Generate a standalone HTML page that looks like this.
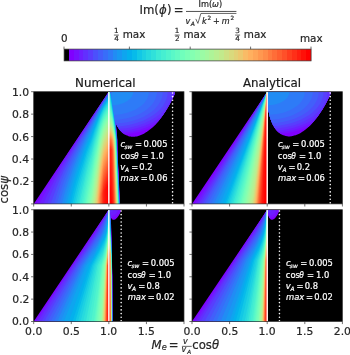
<!DOCTYPE html>
<html><head><meta charset="utf-8"><title>Im(phi) growth rate</title>
<style>html,body{margin:0;padding:0;background:#fff;overflow:hidden}svg{display:block}</style>
</head><body>
<svg width="350" height="355" viewBox="0 0 350 355" font-family="'DejaVu Sans', 'Liberation Sans', sans-serif">
<rect width="350" height="355" fill="#fff"/>
<text x="139.45" y="14.00" font-size="11.70" stroke="#262626" stroke-width="0.20" fill="#262626">Im(</text>
<text x="159.06" y="14.0" font-size="11.70" font-style="italic" fill="#262626" stroke="#262626" stroke-width="0.20">ϕ</text>
<text x="166.98" y="14.0" font-size="11.70" fill="#262626" stroke="#262626" stroke-width="0.20">)</text>
<text x="173.76" y="14.00" font-size="11.70" stroke="#262626" stroke-width="0.20" fill="#262626">=</text>
<text x="198.50" y="7.30" font-size="8.20" stroke="#262626" stroke-width="0.20" fill="#262626">Im(</text>
<text x="212.10" y="7.3" font-size="8.20" font-style="italic" fill="#262626" stroke="#262626" stroke-width="0.20">ω</text>
<text x="218.97" y="7.3" font-size="8.20" fill="#262626" stroke="#262626" stroke-width="0.20">)</text>
<rect x="186.0" y="10.95" width="50.4" height="0.8" fill="#262626"/>
<text x="185.52" y="23.60" font-size="8.10" font-style="italic" stroke="#262626" stroke-width="0.20" fill="#262626">v</text>
<text x="190.72" y="25.50" font-size="6.00" font-style="italic" stroke="#262626" stroke-width="0.20" fill="#262626">A</text>
<polyline points="195.8,18.9 197.9,23.4 200.9,13.45 236.4,13.45" fill="none" stroke="#262626" stroke-width="0.7" stroke-linejoin="miter"/>
<text x="201.92" y="23.60" font-size="8.10" font-style="italic" stroke="#262626" stroke-width="0.20" fill="#262626">k</text>
<text x="207.48" y="20.30" font-size="5.70" stroke="#262626" stroke-width="0.20" fill="#262626">2</text>
<text x="212.94" y="23.60" font-size="8.10" stroke="#262626" stroke-width="0.20" fill="#262626">+</text>
<text x="221.82" y="23.60" font-size="8.10" font-style="italic" stroke="#262626" stroke-width="0.20" fill="#262626">m</text>
<text x="230.38" y="20.30" font-size="5.70" stroke="#262626" stroke-width="0.20" fill="#262626">2</text>
<defs><linearGradient id="cbg" x1="0" y1="0" x2="1" y2="0"><stop offset="0" stop-color="#000"/><stop offset="0.01961" stop-color="#000"/><stop offset="0.01961" stop-color="#8000ff"/><stop offset="0.03922" stop-color="#8000ff"/><stop offset="0.03922" stop-color="#7610ff"/><stop offset="0.05882" stop-color="#7610ff"/><stop offset="0.05882" stop-color="#6c1fff"/><stop offset="0.07843" stop-color="#6c1fff"/><stop offset="0.07843" stop-color="#622ffe"/><stop offset="0.09804" stop-color="#622ffe"/><stop offset="0.09804" stop-color="#583efd"/><stop offset="0.11765" stop-color="#583efd"/><stop offset="0.11765" stop-color="#4c50fc"/><stop offset="0.13725" stop-color="#4c50fc"/><stop offset="0.13725" stop-color="#425ffa"/><stop offset="0.15686" stop-color="#425ffa"/><stop offset="0.15686" stop-color="#386df9"/><stop offset="0.17647" stop-color="#386df9"/><stop offset="0.17647" stop-color="#2e7bf7"/><stop offset="0.19608" stop-color="#2e7bf7"/><stop offset="0.19608" stop-color="#218cf4"/><stop offset="0.21569" stop-color="#218cf4"/><stop offset="0.21569" stop-color="#1898f2"/><stop offset="0.23529" stop-color="#1898f2"/><stop offset="0.23529" stop-color="#0ea5ef"/><stop offset="0.25490" stop-color="#0ea5ef"/><stop offset="0.25490" stop-color="#04b0ed"/><stop offset="0.27451" stop-color="#04b0ed"/><stop offset="0.27451" stop-color="#07bbea"/><stop offset="0.29412" stop-color="#07bbea"/><stop offset="0.29412" stop-color="#12c8e6"/><stop offset="0.31373" stop-color="#12c8e6"/><stop offset="0.31373" stop-color="#1dd1e2"/><stop offset="0.33333" stop-color="#1dd1e2"/><stop offset="0.33333" stop-color="#27dade"/><stop offset="0.35294" stop-color="#27dade"/><stop offset="0.35294" stop-color="#30e1da"/><stop offset="0.37255" stop-color="#30e1da"/><stop offset="0.37255" stop-color="#3dead5"/><stop offset="0.39216" stop-color="#3dead5"/><stop offset="0.39216" stop-color="#46efd1"/><stop offset="0.41176" stop-color="#46efd1"/><stop offset="0.41176" stop-color="#50f4cc"/><stop offset="0.43137" stop-color="#50f4cc"/><stop offset="0.43137" stop-color="#5af8c8"/><stop offset="0.45098" stop-color="#5af8c8"/><stop offset="0.45098" stop-color="#64fbc3"/><stop offset="0.47059" stop-color="#64fbc3"/><stop offset="0.47059" stop-color="#70febc"/><stop offset="0.49020" stop-color="#70febc"/><stop offset="0.49020" stop-color="#7affb7"/><stop offset="0.50980" stop-color="#7affb7"/><stop offset="0.50980" stop-color="#84ffb2"/><stop offset="0.52941" stop-color="#84ffb2"/><stop offset="0.52941" stop-color="#8efeac"/><stop offset="0.54902" stop-color="#8efeac"/><stop offset="0.54902" stop-color="#9bfba5"/><stop offset="0.56863" stop-color="#9bfba5"/><stop offset="0.56863" stop-color="#a4f89f"/><stop offset="0.58824" stop-color="#a4f89f"/><stop offset="0.58824" stop-color="#aef498"/><stop offset="0.60784" stop-color="#aef498"/><stop offset="0.60784" stop-color="#b9ef92"/><stop offset="0.62745" stop-color="#b9ef92"/><stop offset="0.62745" stop-color="#c2ea8c"/><stop offset="0.64706" stop-color="#c2ea8c"/><stop offset="0.64706" stop-color="#cee184"/><stop offset="0.66667" stop-color="#cee184"/><stop offset="0.66667" stop-color="#d9da7d"/><stop offset="0.68627" stop-color="#d9da7d"/><stop offset="0.68627" stop-color="#e2d176"/><stop offset="0.70588" stop-color="#e2d176"/><stop offset="0.70588" stop-color="#ecc86f"/><stop offset="0.72549" stop-color="#ecc86f"/><stop offset="0.72549" stop-color="#f9bb66"/><stop offset="0.74510" stop-color="#f9bb66"/><stop offset="0.74510" stop-color="#ffb05f"/><stop offset="0.76471" stop-color="#ffb05f"/><stop offset="0.76471" stop-color="#ffa558"/><stop offset="0.78431" stop-color="#ffa558"/><stop offset="0.78431" stop-color="#ff9850"/><stop offset="0.80392" stop-color="#ff9850"/><stop offset="0.80392" stop-color="#ff8c49"/><stop offset="0.82353" stop-color="#ff8c49"/><stop offset="0.82353" stop-color="#ff7b40"/><stop offset="0.84314" stop-color="#ff7b40"/><stop offset="0.84314" stop-color="#ff6d38"/><stop offset="0.86275" stop-color="#ff6d38"/><stop offset="0.86275" stop-color="#ff5f30"/><stop offset="0.88235" stop-color="#ff5f30"/><stop offset="0.88235" stop-color="#ff5029"/><stop offset="0.90196" stop-color="#ff5029"/><stop offset="0.90196" stop-color="#ff3e1f"/><stop offset="0.92157" stop-color="#ff3e1f"/><stop offset="0.92157" stop-color="#ff2f18"/><stop offset="0.94118" stop-color="#ff2f18"/><stop offset="0.94118" stop-color="#ff1f10"/><stop offset="0.96078" stop-color="#ff1f10"/><stop offset="0.96078" stop-color="#ff1008"/><stop offset="0.98039" stop-color="#ff1008"/><stop offset="0.98039" stop-color="#ff0000"/><stop offset="1" stop-color="#ff0000"/></linearGradient></defs>
<rect x="64.10" y="49.10" width="247.00" height="11.80" fill="url(#cbg)"/>
<rect x="64.10" y="49.10" width="247.00" height="11.80" fill="none" stroke="#333" stroke-width="0.7"/>
<line x1="64.00" y1="46.60" x2="64.00" y2="49.10" stroke="#333" stroke-width="0.7"/>
<line x1="129.40" y1="46.60" x2="129.40" y2="49.10" stroke="#333" stroke-width="0.7"/>
<line x1="190.20" y1="46.60" x2="190.20" y2="49.10" stroke="#333" stroke-width="0.7"/>
<line x1="250.60" y1="46.60" x2="250.60" y2="49.10" stroke="#333" stroke-width="0.7"/>
<line x1="311.00" y1="46.60" x2="311.00" y2="49.10" stroke="#333" stroke-width="0.7"/>
<text x="61.09" y="41.60" font-size="10.40" stroke="#262626" stroke-width="0.20" fill="#262626">0</text>
<text x="299.96" y="41.50" font-size="10.40" stroke="#262626" stroke-width="0.20" fill="#262626">max</text>
<text x="114.05" y="33.00" font-size="7.20" stroke="#262626" stroke-width="0.20" fill="#262626">1</text>
<rect x="113.90" y="34.7" width="5.0" height="0.7" fill="#262626"/>
<text x="114.14" y="41.10" font-size="7.20" stroke="#262626" stroke-width="0.20" fill="#262626">4</text>
<text x="122.66" y="37.60" font-size="10.40" stroke="#262626" stroke-width="0.20" fill="#262626">max</text>
<text x="174.85" y="33.00" font-size="7.20" stroke="#262626" stroke-width="0.20" fill="#262626">1</text>
<rect x="174.70" y="34.7" width="5.0" height="0.7" fill="#262626"/>
<text x="175.01" y="41.10" font-size="7.20" stroke="#262626" stroke-width="0.20" fill="#262626">2</text>
<text x="183.46" y="37.60" font-size="10.40" stroke="#262626" stroke-width="0.20" fill="#262626">max</text>
<text x="235.32" y="33.00" font-size="7.20" stroke="#262626" stroke-width="0.20" fill="#262626">3</text>
<rect x="235.10" y="34.7" width="5.0" height="0.7" fill="#262626"/>
<text x="235.34" y="41.10" font-size="7.20" stroke="#262626" stroke-width="0.20" fill="#262626">4</text>
<text x="243.86" y="37.60" font-size="10.40" stroke="#262626" stroke-width="0.20" fill="#262626">max</text>
<clipPath id="clipTL"><rect x="33.70" y="91.70" width="150.30" height="112.20"/></clipPath>
<rect x="33.70" y="91.70" width="150.30" height="112.20" fill="#000"/>
<g clip-path="url(#clipTL)">
<path fill="#8000ff" fill-rule="evenodd" d="M33.7 203.9L120.0 203.9L117.5 151.6L117.4 139.8L116.1 125.2L115.7 123.1L117.4 126.5L120.4 130.8L122.0 132.5L123.9 134.0L126.9 135.6L127.3 135.6L128.4 136.2L128.9 136.2L129.0 136.4L130.9 136.6L131.0 136.8L135.2 136.8L135.3 136.6L137.3 136.4L137.4 136.2L139.8 135.6L143.9 133.8L146.4 132.1L146.7 132.1L151.9 128.0L155.6 124.4L158.1 121.6L161.2 117.7L165.7 111.1L170.5 102.9L174.9 93.8L174.9 91.7L111.4 91.7L111.4 95.4L110.4 91.7L108.7 91.7Z"/>
<path fill="#7610ff" fill-rule="evenodd" d="M36.2 203.9L119.9 203.9L117.4 150.0L117.2 139.9L115.6 123.1L115.9 123.3L117.4 126.5L119.7 130.0L122.6 132.9L125.0 134.5L131.6 133.6L139.1 131.9L145.9 129.8L152.4 127.2L155.6 124.3L158.7 120.8L162.7 115.6L165.7 111.1L169.4 104.8L173.3 97.1L174.8 93.8L174.8 91.7L111.4 91.7L111.4 95.8L110.3 91.7L108.7 91.7L108.7 92.0L72.4 146.5L52.0 177.5L41.2 194.6ZM115.6 123.0L115.6 122.7L115.6 122.7L115.6 122.7Z"/>
<path fill="#6c1fff" fill-rule="evenodd" d="M39.7 203.9L119.8 203.9L117.3 150.0L117.1 139.9L115.8 125.2L115.5 122.7L115.6 122.7L117.4 126.5L119.7 129.9L120.9 131.2L122.9 133.0L131.4 131.7L139.8 129.7L147.6 127.0L154.6 123.8L157.1 122.5L158.1 121.4L161.2 117.6L165.6 111.1L169.4 104.8L173.3 97.1L174.8 93.8L174.8 91.7L111.4 91.7L111.4 96.0L110.3 91.7L108.7 91.7L108.7 92.1L75.5 142.6L60.1 166.7L51.4 181.3L46.7 189.7L41.7 199.2ZM115.5 122.7L115.5 122.6L115.5 122.5L115.5 122.6Z"/>
<path fill="#622ffe" fill-rule="evenodd" d="M43.4 203.9L119.7 203.9L117.2 150.0L117.1 139.9L115.8 125.2L115.4 122.6L115.7 122.7L117.4 126.5L119.7 129.9L120.9 131.1L129.4 130.0L137.5 128.1L145.3 125.5L152.3 122.4L158.1 119.0L161.0 116.9L162.7 115.5L167.1 108.7L171.2 101.2L174.7 93.8L174.7 91.7L111.4 91.7L111.4 96.2L110.3 91.7L108.7 91.7L108.7 92.2L98.7 107.4L77.5 140.5L63.7 163.3L57.7 174.0L50.9 187.3L46.9 195.7ZM115.4 122.4L115.3 122.2L115.4 122.2L115.4 122.2Z"/>
<path fill="#583efd" fill-rule="evenodd" d="M47.1 203.9L119.7 203.9L117.2 150.0L117.0 139.9L115.7 125.2L115.2 122.2L115.4 122.2L117.5 126.5L119.2 129.0L127.9 127.9L136.2 126.0L143.9 123.4L151.0 120.1L155.7 117.3L159.7 114.3L163.3 111.0L166.3 107.3L168.7 103.7L170.4 99.7L171.4 95.8L171.8 91.7L111.4 91.7L111.4 96.5L110.2 91.7L108.8 91.7L108.7 92.5L99.2 107.0L78.8 139.9L72.9 150.0L66.1 162.0L61.2 171.4L57.0 180.0L50.7 194.6ZM115.2 122.1L115.2 121.8L115.2 121.8L115.3 121.8Z"/>
<path fill="#4c50fc" fill-rule="evenodd" d="M50.6 203.9L119.6 203.9L117.1 150.0L116.9 139.9L115.6 125.2L115.1 121.6L115.3 121.8L116.5 124.6L117.5 126.5L121.8 126.2L129.2 125.0L136.4 123.1L143.1 120.7L149.3 117.6L153.4 115.1L157.0 112.3L160.2 109.2L162.9 105.9L164.9 102.5L166.5 99.0L167.4 95.4L167.7 91.7L111.4 91.7L111.4 96.7L110.2 91.7L108.8 91.7L108.7 92.8L99.1 107.8L79.7 140.3L74.0 150.6L68.3 161.5L63.3 171.4L59.1 180.9L56.2 188.4Z"/>
<path fill="#425ffa" fill-rule="evenodd" d="M54.0 203.9L119.5 203.9L117.0 150.0L116.9 139.9L115.5 125.0L114.9 121.2L116.1 123.6L121.9 123.1L127.5 122.2L133.0 120.8L138.3 119.1L143.2 116.9L147.6 114.5L150.9 112.3L154.1 109.7L156.8 106.8L158.9 104.0L160.7 101.0L161.9 98.1L162.6 94.9L162.9 91.7L111.4 91.7L111.4 97.1L110.1 91.7L108.8 91.7L108.7 93.2L101.1 105.0L94.3 116.8L79.7 142.8L72.6 156.4L66.1 170.2L61.5 181.1L57.5 192.3Z"/>
<path fill="#386df9" fill-rule="evenodd" d="M56.7 203.9L119.4 203.9L117.0 150.0L116.8 139.9L115.4 125.0L114.7 120.0L118.9 119.7L123.0 119.1L127.1 118.3L131.0 117.3L134.9 116.0L138.5 114.5L141.8 112.8L144.8 111.0L147.4 109.1L149.9 106.8L152.1 104.5L153.8 102.1L155.2 99.6L156.2 96.9L156.8 94.3L157.0 91.7L111.4 91.7L111.4 97.6L110.1 91.7L108.8 91.7L108.7 93.7L101.4 105.2L94.8 116.9L85.0 135.1L78.3 148.2L74.3 156.4L67.7 171.5L63.8 181.5L60.0 192.5Z"/>
<path fill="#2e7bf7" fill-rule="evenodd" d="M59.2 203.9L119.3 203.9L116.9 150.0L116.7 139.9L115.3 125.0L113.9 115.0L120.7 114.3L127.4 112.8L133.4 110.6L136.2 109.2L138.8 107.6L141.0 106.0L143.0 104.2L144.7 102.4L146.2 100.3L147.4 98.2L148.2 96.0L148.7 93.9L148.9 91.7L111.5 91.7L111.4 98.1L110.1 91.7L108.8 91.7L108.7 94.3L103.6 102.2L98.7 110.8L85.9 135.6L75.9 156.8L71.8 166.5L65.9 182.2L62.3 192.9Z"/>
<path fill="#218cf4" fill-rule="evenodd" d="M61.7 203.9L119.3 203.9L116.8 150.0L116.6 139.9L115.2 125.0L112.4 105.3L116.5 105.0L120.5 104.1L124.1 102.8L127.3 101.1L129.9 99.1L131.8 96.7L132.9 94.3L133.3 91.7L111.5 91.7L111.4 98.7L110.0 91.7L108.8 91.7L108.7 94.9L103.6 102.9L98.9 111.5L86.2 137.5L77.1 157.9L72.8 168.9L67.7 183.7L64.5 193.6Z"/>
<path fill="#1898f2" fill-rule="evenodd" d="M64.0 203.9L119.2 203.9L116.8 150.0L116.5 139.9L115.1 125.0L111.0 96.9L109.9 91.7L108.8 91.7L108.7 95.6L103.6 103.7L98.7 113.0L86.7 139.4L79.2 157.2L75.5 166.7L72.2 176.2L67.2 192.5Z"/>
<path fill="#0ea5ef" fill-rule="evenodd" d="M66.3 203.9L119.1 203.9L116.7 150.0L116.5 139.9L115.0 125.0L110.9 96.9L109.9 91.7L108.8 91.7L108.7 96.4L103.6 104.5L100.1 111.3L94.4 124.2L91.6 131.3L88.0 139.2L84.8 147.1L78.5 163.5L74.7 174.4L71.6 184.6Z"/>
<path fill="#04b0ed" fill-rule="evenodd" d="M68.5 203.9L119.0 203.9L116.6 150.0L116.4 139.9L114.9 125.0L110.8 96.9L109.8 91.7L108.8 91.7L108.7 97.2L103.6 105.5L100.2 112.3L94.5 126.1L91.6 133.9L88.3 141.6L85.4 149.1L79.0 167.1L75.7 177.2L72.5 188.4Z"/>
<path fill="#07bbea" fill-rule="evenodd" d="M70.6 203.9L118.9 203.9L116.6 150.0L116.3 139.9L114.8 125.0L110.7 96.9L109.7 91.7L108.8 91.7L108.7 98.2L103.6 106.5L100.3 113.4L94.6 128.2L91.6 136.8L86.0 151.4L79.4 171.0L76.7 180.0L73.4 191.7Z"/>
<path fill="#12c8e6" fill-rule="evenodd" d="M72.4 203.9L118.8 203.9L116.5 150.0L116.2 139.9L114.7 125.0L110.6 96.9L109.6 91.7L108.8 91.7L108.7 99.2L103.6 107.6L100.4 114.5L94.6 130.4L91.6 139.9L86.5 153.8L77.8 182.4L75.0 192.9Z"/>
<path fill="#1dd1e2" fill-rule="evenodd" d="M74.2 203.9L118.7 203.9L116.4 150.0L116.1 139.9L114.6 125.0L109.5 91.7L108.8 91.7L108.7 100.3L103.6 108.8L100.5 115.8L94.7 132.8L91.6 143.2L87.0 156.6L78.7 185.4Z"/>
<path fill="#27dade" fill-rule="evenodd" d="M75.9 203.9L118.6 203.9L116.3 150.0L116.0 139.9L114.4 125.0L109.3 91.7L108.8 91.7L108.7 101.4L103.6 110.1L100.6 117.2L98.7 122.7L94.0 137.9L91.6 146.7L88.7 155.5L86.0 164.4L79.2 190.2Z"/>
<path fill="#30e1da" fill-rule="evenodd" d="M77.7 203.9L118.5 203.9L115.9 139.9L114.3 125.0L110.4 99.5L109.5 94.9L109.0 93.6L108.9 93.6L108.7 102.6L103.6 111.4L100.6 118.9L99.0 123.9L94.0 140.7L91.6 150.5L88.8 159.2L86.4 168.0Z"/>
<path fill="#3dead5" fill-rule="evenodd" d="M79.3 203.9L118.4 203.9L115.9 139.9L114.2 125.0L112.7 115.7L110.2 100.5L109.6 98.0L109.1 97.3L108.9 97.3L108.7 103.9L103.6 112.9L100.6 120.7L98.6 127.2L94.0 144.2L91.6 154.5L89.0 163.1L86.6 172.1Z"/>
<path fill="#46efd1" fill-rule="evenodd" d="M81.0 203.9L118.3 203.9L115.8 139.9L114.0 125.0L112.4 114.5L110.2 102.3L109.7 100.6L109.1 99.8L108.9 99.8L108.7 105.3L103.6 114.4L100.6 122.6L99.0 128.2L94.0 147.4L91.6 158.7L86.9 176.4Z"/>
<path fill="#50f4cc" fill-rule="evenodd" d="M82.6 203.9L118.2 203.9L115.7 139.9L113.9 125.0L112.1 114.1L110.2 104.3L109.7 102.8L109.1 102.2L108.9 102.2L108.7 106.8L103.6 116.0L100.6 124.4L99.2 129.5L94.1 150.8L91.6 163.2L87.0 181.5L84.7 192.3Z"/>
<path fill="#5af8c8" fill-rule="evenodd" d="M83.9 203.9L118.1 203.9L115.6 139.9L113.7 125.0L112.1 115.3L110.4 106.8L109.9 105.4L109.2 104.7L108.9 104.7L108.7 108.3L103.6 117.7L101.1 125.2L99.7 130.0L94.2 154.2L91.6 167.9L87.5 185.0Z"/>
<path fill="#64fbc3" fill-rule="evenodd" d="M85.1 203.9L118.0 203.9L115.5 139.9L113.9 127.1L112.0 116.0L110.4 108.9L109.9 107.7L109.2 107.1L108.9 107.1L108.7 109.9L103.6 119.4L101.4 126.1L100.1 131.0L94.4 157.2L91.6 172.8L88.2 187.8Z"/>
<path fill="#70febc" fill-rule="evenodd" d="M86.3 203.9L117.9 203.9L115.3 139.9L113.7 127.4L111.9 116.7L110.6 111.7L109.9 110.0L109.2 109.6L108.9 109.6L108.7 111.6L103.6 121.3L100.4 131.9L98.7 139.6L96.8 149.7L94.6 160.0L91.6 177.9L88.8 190.6Z"/>
<path fill="#7affb7" fill-rule="evenodd" d="M87.5 203.9L117.8 203.9L115.2 139.9L113.7 128.5L112.0 118.7L110.6 113.4L110.0 112.2L109.4 111.8L108.9 111.7L108.7 113.3L103.6 123.2L100.6 133.6L98.7 142.2L96.8 153.3L94.8 163.5L91.6 183.3Z"/>
<path fill="#84ffb2" fill-rule="evenodd" d="M88.7 203.9L117.7 203.9L115.1 139.9L113.6 128.8L112.0 120.1L110.6 115.2L110.0 114.1L109.4 113.7L108.9 113.7L108.7 115.1L103.6 125.2L100.6 136.1L98.8 145.2L96.8 157.0L94.8 167.8L91.6 188.9Z"/>
<path fill="#8efeac" fill-rule="evenodd" d="M89.8 203.9L117.6 203.9L115.0 139.9L113.5 129.2L111.9 121.1L110.6 117.0L110.0 116.0L109.4 115.7L108.9 115.6L108.7 117.0L103.6 127.3L100.6 138.7L98.7 148.4L96.8 160.8L94.7 172.7L91.6 194.7Z"/>
<path fill="#9bfba5" fill-rule="evenodd" d="M91.0 203.9L117.4 203.9L114.9 139.9L113.5 130.4L111.9 122.6L110.6 118.8L110.0 117.9L109.4 117.6L108.9 117.6L108.7 119.0L103.6 129.5L100.6 141.5L98.8 151.5L96.8 164.8L94.6 178.3L91.6 200.7Z"/>
<path fill="#a4f89f" fill-rule="evenodd" d="M91.9 203.9L117.3 203.9L114.7 139.9L113.6 132.2L112.5 126.6L111.0 121.4L110.2 120.1L109.5 119.6L108.9 119.5L108.7 121.0L103.6 131.8L100.6 144.3L98.8 154.9L96.8 169.0L94.6 183.1Z"/>
<path fill="#aef498" fill-rule="evenodd" d="M92.6 203.9L117.2 203.9L114.6 139.9L113.5 132.6L112.4 127.3L110.9 122.9L110.2 122.0L109.5 121.5L108.9 121.5L108.7 123.2L103.6 134.1L100.6 147.2L98.4 160.9L96.8 173.3L94.3 189.9Z"/>
<path fill="#b9ef92" fill-rule="evenodd" d="M93.3 203.9L117.0 203.9L115.0 150.0L114.4 139.9L113.4 133.1L112.2 128.1L111.6 126.3L110.7 124.5L110.1 123.8L109.5 123.5L108.9 123.4L108.7 125.3L103.6 136.5L100.9 148.5L98.7 162.8L96.8 177.8L95.0 190.4Z"/>
<path fill="#c2ea8c" fill-rule="evenodd" d="M94.0 203.9L116.9 203.9L114.9 150.0L114.3 139.9L113.2 133.6L112.1 128.9L111.0 126.4L110.4 125.7L109.6 125.4L108.9 125.4L108.7 127.6L103.6 139.0L101.4 149.3L100.5 154.2L99.0 164.3L96.8 182.4Z"/>
<path fill="#cee184" fill-rule="evenodd" d="M94.6 203.9L116.8 203.9L114.7 150.0L114.1 139.9L113.1 134.1L112.0 129.8L110.9 127.5L110.2 126.9L109.6 126.7L108.9 126.6L108.7 130.0L103.6 141.6L101.6 151.4L100.6 156.6L99.1 166.7L96.8 187.2Z"/>
<path fill="#d9da7d" fill-rule="evenodd" d="M95.3 203.9L116.6 203.9L114.6 150.0L114.0 139.9L113.0 134.7L112.0 131.0L110.9 128.7L110.2 128.2L109.6 127.9L108.9 127.9L108.7 132.4L103.6 144.3L101.8 153.4L100.6 159.9L99.3 169.5L96.8 192.1Z"/>
<path fill="#e2d176" fill-rule="evenodd" d="M96.0 203.9L116.5 203.9L114.5 150.0L113.8 139.9L112.9 135.3L111.9 131.9L110.9 130.0L110.2 129.4L109.6 129.2L108.9 129.2L108.7 134.9L103.6 147.1L101.9 155.8L100.6 163.4L99.3 173.0Z"/>
<path fill="#ecc86f" fill-rule="evenodd" d="M96.8 203.9L116.3 203.9L114.3 150.0L113.6 140.4L112.7 136.0L111.7 132.8L110.7 131.1L109.6 130.5L108.9 130.4L108.7 137.4L103.6 149.9L101.9 159.2L100.6 166.9L99.0 179.4L97.4 195.3Z"/>
<path fill="#f9bb66" fill-rule="evenodd" d="M97.3 203.9L116.1 203.9L114.2 150.0L113.6 142.6L113.2 139.4L112.0 134.7L110.9 132.5L110.2 132.0L109.6 131.7L108.9 131.7L108.7 140.1L103.6 152.8L102.1 161.1L100.6 170.6L99.3 180.9L97.6 199.0Z"/>
<path fill="#ffb05f" fill-rule="evenodd" d="M97.8 203.9L115.9 203.9L114.0 150.0L113.6 144.8L113.1 139.9L112.1 136.2L111.0 133.9L110.4 133.3L109.6 133.0L108.9 133.0L108.7 142.8L103.6 155.8L102.3 163.3L100.6 174.3L99.6 183.0L97.8 200.7Z"/>
<path fill="#ffa558" fill-rule="evenodd" d="M98.3 203.9L115.8 203.9L113.9 150.0L113.6 147.0L112.8 139.9L112.4 138.2L111.1 135.3L110.4 134.6L109.6 134.3L108.9 134.2L108.7 145.6L103.6 158.9L102.5 165.4L100.6 178.2L99.8 184.8L98.3 200.0Z"/>
<path fill="#ff9850" fill-rule="evenodd" d="M98.8 203.9L115.6 203.9L113.6 149.3L112.5 139.8L111.9 138.0L111.1 136.6L110.4 135.8L109.6 135.5L108.9 135.5L108.7 148.4L103.6 162.1L102.6 168.0L100.8 180.5L100.0 187.6L98.8 199.4Z"/>
<path fill="#ff8c49" fill-rule="evenodd" d="M99.3 203.9L115.4 203.9L113.5 150.0L112.9 144.4L112.1 139.9L111.0 137.7L110.4 137.1L109.6 136.8L108.9 136.8L108.7 151.4L103.6 165.3L102.7 170.6L101.0 182.8L100.1 190.6L99.3 198.7Z"/>
<path fill="#ff7b40" fill-rule="evenodd" d="M99.8 203.9L115.1 203.9L113.3 150.0L112.5 144.0L111.6 139.9L110.7 138.7L109.6 138.1L108.9 138.0L108.7 154.4L103.6 168.6L100.6 190.3L99.8 197.9Z"/>
<path fill="#ff6d38" fill-rule="evenodd" d="M100.3 203.9L114.9 203.9L113.0 150.0L112.3 145.0L111.5 141.6L110.8 139.9L109.6 139.4L108.9 139.3L108.7 157.5L103.6 172.1L100.6 194.6L100.3 197.2Z"/>
<path fill="#ff5f30" fill-rule="evenodd" d="M100.9 203.9L114.6 203.9L112.8 150.0L112.1 146.1L111.4 143.3L110.5 141.6L110.0 141.2L109.4 141.0L108.9 141.0L108.7 160.6L103.6 175.5L100.9 196.2Z"/>
<path fill="#ff5029" fill-rule="evenodd" d="M101.5 203.9L114.3 203.9L112.4 150.0L111.9 147.1L111.1 144.7L110.4 143.5L109.4 143.0L108.9 143.0L108.7 163.9L103.6 179.1L101.5 195.3Z"/>
<path fill="#ff3e1f" fill-rule="evenodd" d="M102.1 203.9L114.0 203.9L112.1 150.0L111.5 147.7L110.9 146.2L110.2 145.4L109.4 145.0L108.9 145.0L108.7 167.2L103.6 182.8L102.1 194.6Z"/>
<path fill="#ff2f18" fill-rule="evenodd" d="M102.7 203.9L113.6 203.9L111.6 150.0L110.6 147.8L110.0 147.2L109.4 147.0L108.9 147.0L108.7 170.6L103.6 186.5L102.7 193.6Z"/>
<path fill="#ff1f10" fill-rule="evenodd" d="M103.3 203.9L113.2 203.9L111.7 168.7L110.7 150.1L110.1 149.3L109.4 149.1L108.9 149.0L108.7 174.0L103.6 190.3L103.3 192.9Z"/>
<path fill="#ff1008" fill-rule="evenodd" d="M104.6 203.9L112.7 203.9L111.6 182.3L110.7 169.0L110.0 162.7L109.5 161.2L109.0 160.8L108.9 160.8L108.7 177.5L104.6 190.8Z"/>
<path fill="#ff0000" fill-rule="evenodd" d="M106.7 203.9L111.9 203.9L111.1 192.6L110.5 186.5L109.9 183.4L109.5 182.6L108.9 182.4L108.7 181.2L106.7 187.6Z"/>
<line x1="108.85" y1="91.70" x2="108.85" y2="203.90" stroke="#fff" stroke-width="1.4"/>
<line x1="172.58" y1="91.70" x2="172.58" y2="203.90" stroke="#fff" stroke-width="1.6" stroke-linecap="round" stroke-dasharray="0.01 3.655" stroke-dashoffset="-1.25"/>
</g>
<rect x="33.70" y="91.70" width="150.30" height="112.20" fill="none" stroke="#333" stroke-width="0.7"/>
<line x1="33.70" y1="203.90" x2="33.70" y2="206.50" stroke="#333" stroke-width="0.7"/>
<line x1="71.28" y1="203.90" x2="71.28" y2="206.50" stroke="#333" stroke-width="0.7"/>
<line x1="108.85" y1="203.90" x2="108.85" y2="206.50" stroke="#333" stroke-width="0.7"/>
<line x1="146.43" y1="203.90" x2="146.43" y2="206.50" stroke="#333" stroke-width="0.7"/>
<line x1="184.00" y1="203.90" x2="184.00" y2="206.50" stroke="#333" stroke-width="0.7"/>
<line x1="31.10" y1="203.90" x2="33.70" y2="203.90" stroke="#333" stroke-width="0.7"/>
<line x1="31.10" y1="181.46" x2="33.70" y2="181.46" stroke="#333" stroke-width="0.7"/>
<line x1="31.10" y1="159.02" x2="33.70" y2="159.02" stroke="#333" stroke-width="0.7"/>
<line x1="31.10" y1="136.58" x2="33.70" y2="136.58" stroke="#333" stroke-width="0.7"/>
<line x1="31.10" y1="114.14" x2="33.70" y2="114.14" stroke="#333" stroke-width="0.7"/>
<line x1="31.10" y1="91.70" x2="33.70" y2="91.70" stroke="#333" stroke-width="0.7"/>
<text x="12.31" y="185.41" font-size="10.80" stroke="#262626" stroke-width="0.20" fill="#262626">0.2</text>
<text x="11.83" y="162.97" font-size="10.80" stroke="#262626" stroke-width="0.20" fill="#262626">0.4</text>
<text x="11.90" y="140.53" font-size="10.80" stroke="#262626" stroke-width="0.20" fill="#262626">0.6</text>
<text x="11.96" y="118.09" font-size="10.80" stroke="#262626" stroke-width="0.20" fill="#262626">0.8</text>
<text x="11.94" y="95.65" font-size="10.80" stroke="#262626" stroke-width="0.20" fill="#262626">1.0</text>
<text x="75.04" y="87.00" font-size="11.85" stroke="#1a1a1a" stroke-width="0.20" fill="#1a1a1a">Numerical</text>
<text x="120.51" y="147.40" font-size="8.40" font-style="italic" stroke="#ffffff" stroke-width="0.20" fill="#ffffff">c</text>
<text x="124.43" y="149.30" font-size="5.88" font-style="italic" stroke="#ffffff" stroke-width="0.20" fill="#ffffff">sw</text>
<text x="134.91" y="147.40" font-size="8.40" stroke="#ffffff" stroke-width="0.20" fill="#ffffff">=</text>
<text x="143.55" y="147.40" font-size="8.40" stroke="#ffffff" stroke-width="0.20" fill="#ffffff">0.005</text>
<text x="120.44" y="158.75" font-size="8.40" stroke="#ffffff" stroke-width="0.20" fill="#ffffff">cos</text>
<text x="133.96" y="158.75" font-size="8.40" font-style="italic" stroke="#ffffff" stroke-width="0.20" fill="#ffffff" textLength="4.6" lengthAdjust="spacingAndGlyphs">θ</text>
<text x="141.61" y="158.75" font-size="8.40" stroke="#ffffff" stroke-width="0.20" fill="#ffffff">=</text>
<text x="150.58" y="158.75" font-size="8.40" stroke="#ffffff" stroke-width="0.20" fill="#ffffff">1.0</text>
<text x="120.30" y="170.10" font-size="8.40" font-style="italic" stroke="#ffffff" stroke-width="0.20" fill="#ffffff">v</text>
<text x="125.01" y="172.00" font-size="5.88" font-style="italic" stroke="#ffffff" stroke-width="0.20" fill="#ffffff">A</text>
<text x="131.21" y="170.10" font-size="8.40" stroke="#ffffff" stroke-width="0.20" fill="#ffffff">=</text>
<text x="139.35" y="170.10" font-size="8.40" stroke="#ffffff" stroke-width="0.20" fill="#ffffff">0.2</text>
<text x="120.60" y="181.45" font-size="8.40" font-style="italic" stroke="#ffffff" stroke-width="0.20" fill="#ffffff">max</text>
<text x="140.71" y="181.45" font-size="8.40" stroke="#ffffff" stroke-width="0.20" fill="#ffffff">=</text>
<text x="148.85" y="181.45" font-size="8.40" stroke="#ffffff" stroke-width="0.20" fill="#ffffff">0.06</text>
<clipPath id="clipTR"><rect x="192.00" y="91.70" width="150.40" height="112.20"/></clipPath>
<rect x="192.00" y="91.70" width="150.40" height="112.20" fill="#000"/>
<g clip-path="url(#clipTR)">
<path fill="#8000ff" fill-rule="evenodd" d="M192.0 203.9L267.2 203.9L267.2 92.1L267.1 91.9ZM287.6 136.2L287.8 136.4L290.5 136.4L290.6 136.2L292.0 136.2L292.1 136.0L293.0 136.0L293.1 135.8L293.8 135.8L293.9 135.6L295.7 135.3L297.2 134.5L297.5 134.5L300.2 133.2L302.7 131.5L302.9 131.5L305.9 129.3L310.4 125.2L313.7 121.6L316.6 118.1L322.6 109.3L326.6 102.2L329.4 96.6L330.6 93.8L330.6 91.7L267.7 91.7L267.7 104.0L268.3 109.7L269.2 114.3L270.3 118.6L272.5 124.1L275.2 128.7L277.2 131.2L278.6 132.5L280.6 134.0L283.1 135.3L283.5 135.3L284.1 135.6L284.6 135.6L284.7 135.8L285.2 135.8L285.4 136.0Z"/>
<path fill="#7610ff" fill-rule="evenodd" d="M194.1 203.9L267.2 203.9L267.2 93.2L267.1 91.9ZM281.2 134.1L288.4 133.1L295.7 131.3L302.7 129.2L308.7 126.7L311.7 123.8L315.7 119.1L317.7 116.5L322.6 109.3L326.6 102.2L329.3 96.6L330.6 93.8L330.6 91.7L267.7 91.7L267.8 105.5L268.8 112.6L270.4 118.6L272.5 124.1L275.2 128.7L278.0 131.8Z"/>
<path fill="#6c1fff" fill-rule="evenodd" d="M196.2 203.9L267.2 203.9L267.1 91.9L265.4 94.5ZM278.9 132.5L279.1 132.6L281.6 132.3L287.5 131.3L292.5 130.2L297.2 128.9L301.6 127.4L305.8 125.7L309.8 123.9L313.2 122.0L317.7 116.4L322.5 109.3L325.0 105.0L328.0 99.2L330.5 93.8L330.5 91.7L267.7 91.7L267.9 105.5L268.9 112.6L270.0 117.3L271.8 122.4L274.1 127.0L276.7 130.5Z"/>
<path fill="#622ffe" fill-rule="evenodd" d="M198.4 203.9L267.2 203.9L267.1 91.9L265.8 93.9ZM277.0 130.6L277.1 130.7L280.6 130.4L287.1 129.3L292.8 128.0L298.2 126.3L303.2 124.4L307.7 122.4L312.1 119.9L316.0 117.3L318.3 115.5L322.5 109.3L325.0 105.0L328.0 99.2L330.5 93.8L330.5 91.7L267.7 91.7L267.7 104.0L268.4 109.7L269.5 115.4L270.9 120.1L272.5 124.1L274.8 128.0Z"/>
<path fill="#583efd" fill-rule="evenodd" d="M200.6 203.9L267.2 203.9L267.1 91.9L266.0 93.8ZM275.2 128.5L279.1 128.3L285.1 127.3L290.5 126.1L295.5 124.7L300.3 123.0L304.6 121.1L308.8 118.8L312.6 116.4L316.0 113.8L319.0 111.0L321.6 108.0L323.7 105.0L325.3 101.8L326.6 98.4L327.3 95.1L327.6 91.7L267.8 91.7L267.8 104.0L268.9 112.6L270.0 117.3L271.4 121.4L272.9 124.8Z"/>
<path fill="#4c50fc" fill-rule="evenodd" d="M202.9 203.9L267.2 203.9L267.1 91.9L266.0 93.8ZM273.7 126.1L277.5 125.9L283.1 125.1L288.0 124.0L292.9 122.7L297.5 121.1L301.7 119.3L305.7 117.1L309.2 114.9L312.4 112.5L315.3 109.8L317.8 107.0L319.9 104.0L321.5 101.1L322.6 98.0L323.3 94.9L323.5 91.7L267.8 91.7L267.8 104.0L268.9 112.6L269.8 116.4L270.9 120.1L272.6 124.1Z"/>
<path fill="#425ffa" fill-rule="evenodd" d="M205.2 203.9L267.2 203.9L267.1 92.0L266.1 93.8ZM272.3 123.3L276.9 122.9L281.5 122.3L286.0 121.3L290.4 120.1L294.4 118.8L298.3 117.1L301.9 115.3L305.3 113.2L308.3 111.0L311.0 108.5L313.3 105.9L315.2 103.3L316.7 100.5L317.8 97.7L318.5 94.7L318.7 91.7L267.8 91.7L267.8 104.0L268.4 109.7L268.9 112.6L270.1 117.3L270.9 120.1Z"/>
<path fill="#386df9" fill-rule="evenodd" d="M207.8 203.9L267.2 203.9L267.1 92.0L266.7 92.6ZM270.8 119.6L270.8 119.7L273.2 119.6L278.4 119.0L282.6 118.2L286.9 117.1L290.6 115.9L294.1 114.5L297.5 112.8L300.6 111.0L303.4 108.9L305.8 106.8L308.0 104.4L309.7 102.0L311.1 99.6L312.1 96.9L312.7 94.3L312.9 91.7L267.8 91.7L267.9 105.5L268.9 112.6L270.1 117.3Z"/>
<path fill="#2e7bf7" fill-rule="evenodd" d="M210.8 203.9L210.8 203.9L267.2 203.9L267.1 92.0ZM269.5 114.7L272.3 114.6L276.2 114.2L283.1 112.7L289.3 110.5L292.1 109.1L294.6 107.6L297.0 105.9L298.9 104.2L300.6 102.4L302.2 100.3L303.3 98.2L304.2 96.0L304.7 93.9L304.8 91.7L267.8 91.7L267.8 104.0L268.4 109.7Z"/>
<path fill="#218cf4" fill-rule="evenodd" d="M213.8 203.9L267.2 203.9L267.1 92.0L266.8 92.4ZM268.0 105.2L272.0 104.9L276.1 104.2L279.8 102.9L283.1 101.2L285.8 99.2L287.8 96.9L289.0 94.3L289.4 91.7L267.8 91.7Z"/>
<path fill="#1898f2" fill-rule="evenodd" d="M216.8 203.9L267.2 203.9L267.1 92.0L266.9 92.4Z"/>
<path fill="#0ea5ef" fill-rule="evenodd" d="M219.8 203.9L219.8 203.9L267.2 203.9L267.1 92.0Z"/>
<path fill="#04b0ed" fill-rule="evenodd" d="M222.8 203.9L267.2 203.9L267.1 92.0L266.9 92.4Z"/>
<path fill="#07bbea" fill-rule="evenodd" d="M225.1 203.9L267.2 203.9L267.1 92.0L266.8 92.8Z"/>
<path fill="#12c8e6" fill-rule="evenodd" d="M226.7 203.9L267.2 203.9L267.1 92.1L267.0 92.3Z"/>
<path fill="#1dd1e2" fill-rule="evenodd" d="M228.3 203.9L267.2 203.9L267.1 92.1L267.0 92.3Z"/>
<path fill="#27dade" fill-rule="evenodd" d="M229.9 203.9L267.2 203.9L267.1 92.1L267.0 92.3Z"/>
<path fill="#30e1da" fill-rule="evenodd" d="M231.4 203.9L267.2 203.9L267.1 92.1L267.0 92.3Z"/>
<path fill="#3dead5" fill-rule="evenodd" d="M233.0 203.9L267.2 203.9L267.1 92.1L267.0 92.3Z"/>
<path fill="#46efd1" fill-rule="evenodd" d="M234.6 203.9L267.2 203.9L267.1 92.1L267.0 92.3Z"/>
<path fill="#50f4cc" fill-rule="evenodd" d="M236.2 203.9L267.1 203.9L267.1 92.2L267.0 92.3Z"/>
<path fill="#5af8c8" fill-rule="evenodd" d="M237.8 203.9L267.1 203.9L267.1 92.2L267.0 92.3Z"/>
<path fill="#64fbc3" fill-rule="evenodd" d="M239.3 203.9L267.1 203.9L267.1 92.2L267.0 92.4Z"/>
<path fill="#70febc" fill-rule="evenodd" d="M240.8 203.9L267.1 203.9L267.1 92.2L267.0 92.4Z"/>
<path fill="#7affb7" fill-rule="evenodd" d="M242.1 203.9L267.1 203.9L267.1 92.3L267.0 92.4Z"/>
<path fill="#84ffb2" fill-rule="evenodd" d="M243.5 203.9L267.1 203.9L267.1 92.3L267.0 92.4Z"/>
<path fill="#8efeac" fill-rule="evenodd" d="M244.8 203.9L267.1 203.9L267.1 92.3L267.0 92.8Z"/>
<path fill="#9bfba5" fill-rule="evenodd" d="M246.1 203.9L267.1 203.9L267.1 92.4L267.0 92.8Z"/>
<path fill="#a4f89f" fill-rule="evenodd" d="M247.5 203.9L267.1 203.9L267.1 92.4L267.0 92.8Z"/>
<path fill="#aef498" fill-rule="evenodd" d="M248.8 203.9L267.1 203.9L267.1 92.5L267.0 92.8Z"/>
<path fill="#b9ef92" fill-rule="evenodd" d="M250.2 203.9L267.1 203.9L267.1 92.5L267.0 93.0Z"/>
<path fill="#c2ea8c" fill-rule="evenodd" d="M251.5 203.9L267.1 203.9L267.1 92.6L267.0 93.0Z"/>
<path fill="#cee184" fill-rule="evenodd" d="M252.5 203.9L267.1 203.9L267.1 92.7L267.0 93.0Z"/>
<path fill="#d9da7d" fill-rule="evenodd" d="M253.1 203.9L267.1 203.9L267.1 92.7L267.0 93.2Z"/>
<path fill="#e2d176" fill-rule="evenodd" d="M253.7 203.9L267.1 203.9L267.1 92.8L267.0 93.2Z"/>
<path fill="#ecc86f" fill-rule="evenodd" d="M254.4 203.9L267.1 203.9L267.1 92.8L267.0 93.2Z"/>
<path fill="#f9bb66" fill-rule="evenodd" d="M255.0 203.9L267.1 203.9L267.1 92.9L267.0 93.2Z"/>
<path fill="#ffb05f" fill-rule="evenodd" d="M255.6 203.9L267.1 203.9L267.1 92.9L267.0 93.2Z"/>
<path fill="#ffa558" fill-rule="evenodd" d="M256.2 203.9L267.1 203.9L267.1 93.0L267.0 93.4Z"/>
<path fill="#ff9850" fill-rule="evenodd" d="M256.6 203.9L267.1 203.9L267.1 93.0L267.0 93.4Z"/>
<path fill="#ff8c49" fill-rule="evenodd" d="M257.1 203.9L267.1 203.9L267.1 93.1L267.0 93.4Z"/>
<path fill="#ff7b40" fill-rule="evenodd" d="M257.5 203.9L267.1 203.9L267.1 93.2L267.0 94.1Z"/>
<path fill="#ff6d38" fill-rule="evenodd" d="M258.0 203.9L267.1 203.9L267.1 93.2L267.0 94.3Z"/>
<path fill="#ff5f30" fill-rule="evenodd" d="M258.5 203.9L267.1 203.9L267.1 93.3L267.0 94.3Z"/>
<path fill="#ff5029" fill-rule="evenodd" d="M258.9 203.9L267.1 203.9L267.1 93.4L259.0 203.2Z"/>
<path fill="#ff3e1f" fill-rule="evenodd" d="M259.8 203.9L267.1 203.9L267.1 93.6L267.0 94.5Z"/>
<path fill="#ff2f18" fill-rule="evenodd" d="M260.6 203.9L267.1 203.9L267.1 93.8L267.0 94.5Z"/>
<path fill="#ff1f10" fill-rule="evenodd" d="M261.4 203.9L267.1 203.9L267.1 94.1L267.0 95.8Z"/>
<path fill="#ff1008" fill-rule="evenodd" d="M262.3 203.9L267.1 203.9L267.1 94.6L267.0 96.4Z"/>
<path fill="#ff0000" fill-rule="evenodd" d="M264.2 203.9L267.1 203.9L267.1 96.4L267.1 97.3Z"/>
<line x1="267.20" y1="91.70" x2="267.20" y2="203.90" stroke="#fff" stroke-width="1.4"/>
<line x1="330.22" y1="91.70" x2="330.22" y2="203.90" stroke="#fff" stroke-width="1.6" stroke-linecap="round" stroke-dasharray="0.01 3.655" stroke-dashoffset="-1.25"/>
</g>
<rect x="192.00" y="91.70" width="150.40" height="112.20" fill="none" stroke="#333" stroke-width="0.7"/>
<line x1="192.00" y1="203.90" x2="192.00" y2="206.50" stroke="#333" stroke-width="0.7"/>
<line x1="229.60" y1="203.90" x2="229.60" y2="206.50" stroke="#333" stroke-width="0.7"/>
<line x1="267.20" y1="203.90" x2="267.20" y2="206.50" stroke="#333" stroke-width="0.7"/>
<line x1="304.80" y1="203.90" x2="304.80" y2="206.50" stroke="#333" stroke-width="0.7"/>
<line x1="342.40" y1="203.90" x2="342.40" y2="206.50" stroke="#333" stroke-width="0.7"/>
<line x1="189.40" y1="203.90" x2="192.00" y2="203.90" stroke="#333" stroke-width="0.7"/>
<line x1="189.40" y1="181.46" x2="192.00" y2="181.46" stroke="#333" stroke-width="0.7"/>
<line x1="189.40" y1="159.02" x2="192.00" y2="159.02" stroke="#333" stroke-width="0.7"/>
<line x1="189.40" y1="136.58" x2="192.00" y2="136.58" stroke="#333" stroke-width="0.7"/>
<line x1="189.40" y1="114.14" x2="192.00" y2="114.14" stroke="#333" stroke-width="0.7"/>
<line x1="189.40" y1="91.70" x2="192.00" y2="91.70" stroke="#333" stroke-width="0.7"/>
<text x="242.91" y="87.00" font-size="11.85" stroke="#1a1a1a" stroke-width="0.20" fill="#1a1a1a">Analytical</text>
<text x="277.91" y="147.40" font-size="8.40" font-style="italic" stroke="#ffffff" stroke-width="0.20" fill="#ffffff">c</text>
<text x="281.83" y="149.30" font-size="5.88" font-style="italic" stroke="#ffffff" stroke-width="0.20" fill="#ffffff">sw</text>
<text x="292.31" y="147.40" font-size="8.40" stroke="#ffffff" stroke-width="0.20" fill="#ffffff">=</text>
<text x="300.95" y="147.40" font-size="8.40" stroke="#ffffff" stroke-width="0.20" fill="#ffffff">0.005</text>
<text x="277.84" y="158.75" font-size="8.40" stroke="#ffffff" stroke-width="0.20" fill="#ffffff">cos</text>
<text x="291.36" y="158.75" font-size="8.40" font-style="italic" stroke="#ffffff" stroke-width="0.20" fill="#ffffff" textLength="4.6" lengthAdjust="spacingAndGlyphs">θ</text>
<text x="299.01" y="158.75" font-size="8.40" stroke="#ffffff" stroke-width="0.20" fill="#ffffff">=</text>
<text x="307.98" y="158.75" font-size="8.40" stroke="#ffffff" stroke-width="0.20" fill="#ffffff">1.0</text>
<text x="277.70" y="170.10" font-size="8.40" font-style="italic" stroke="#ffffff" stroke-width="0.20" fill="#ffffff">v</text>
<text x="282.41" y="172.00" font-size="5.88" font-style="italic" stroke="#ffffff" stroke-width="0.20" fill="#ffffff">A</text>
<text x="288.61" y="170.10" font-size="8.40" stroke="#ffffff" stroke-width="0.20" fill="#ffffff">=</text>
<text x="296.75" y="170.10" font-size="8.40" stroke="#ffffff" stroke-width="0.20" fill="#ffffff">0.2</text>
<text x="278.00" y="181.45" font-size="8.40" font-style="italic" stroke="#ffffff" stroke-width="0.20" fill="#ffffff">max</text>
<text x="298.11" y="181.45" font-size="8.40" stroke="#ffffff" stroke-width="0.20" fill="#ffffff">=</text>
<text x="306.25" y="181.45" font-size="8.40" stroke="#ffffff" stroke-width="0.20" fill="#ffffff">0.06</text>
<clipPath id="clipBL"><rect x="33.70" y="209.70" width="150.30" height="111.80"/></clipPath>
<rect x="33.70" y="209.70" width="150.30" height="111.80" fill="#000"/>
<g clip-path="url(#clipBL)">
<path fill="#8000ff" fill-rule="evenodd" d="M33.7 321.5L112.5 321.5L112.4 277.3L111.2 226.7L110.7 217.3L112.0 219.2L113.0 219.8L114.2 219.8L115.5 219.2L117.5 217.3L119.1 214.9L120.7 211.6L121.2 209.7L108.7 209.7Z"/>
<path fill="#7610ff" fill-rule="evenodd" d="M34.9 321.5L112.4 321.5L112.2 274.2L111.1 229.8L110.7 217.3L110.7 217.2L111.2 218.0L113.1 217.7L115.5 216.8L117.4 215.7L118.8 214.4L119.9 212.9L120.5 211.4L120.7 209.7L108.7 209.7L94.3 232.1ZM110.6 217.0L110.6 217.0L110.6 217.0L110.6 217.0Z"/>
<path fill="#6c1fff" fill-rule="evenodd" d="M36.1 321.5L112.4 321.5L112.2 275.3L111.0 226.5L110.5 215.9L113.4 215.3L115.7 213.9L116.6 213.1L117.4 211.9L117.8 210.8L117.9 209.7L109.8 209.7L109.7 210.1L109.7 209.7L108.7 209.7L104.0 217.8L95.1 232.1L72.5 265.6Z"/>
<path fill="#622ffe" fill-rule="evenodd" d="M38.2 321.5L112.4 321.5L112.1 276.8L111.8 258.9L110.9 226.5L110.5 217.5L110.0 212.5L111.4 212.2L112.5 211.6L113.2 210.6L113.4 209.7L109.8 209.7L109.7 210.4L109.6 209.7L108.8 209.7L103.7 219.1L96.2 232.1L86.4 246.8L73.5 265.6Z"/>
<path fill="#583efd" fill-rule="evenodd" d="M41.2 321.5L112.3 321.5L112.1 276.8L111.6 253.9L110.5 217.5L109.6 209.7L108.8 209.7L104.1 219.5L97.4 232.1L89.3 244.5L75.0 265.6Z"/>
<path fill="#4c50fc" fill-rule="evenodd" d="M44.2 321.5L112.3 321.5L112.1 276.8L111.6 254.4L110.4 217.5L109.6 209.7L108.8 209.7L104.6 219.6L98.6 232.1L89.6 246.3L76.5 265.6Z"/>
<path fill="#425ffa" fill-rule="evenodd" d="M47.5 321.5L112.3 321.5L112.0 276.8L111.6 254.4L111.0 233.2L110.4 218.1L109.5 209.7L108.8 209.7L107.1 215.0L105.3 219.6L103.0 225.2L99.8 232.1L90.9 246.4L78.2 265.6Z"/>
<path fill="#386df9" fill-rule="evenodd" d="M50.7 321.5L112.2 321.5L112.0 276.8L111.5 254.4L111.0 234.6L110.2 217.5L109.4 209.7L108.8 209.7L105.5 220.9L101.1 232.8L97.2 238.6L88.3 252.7L79.8 265.6Z"/>
<path fill="#2e7bf7" fill-rule="evenodd" d="M54.0 321.5L112.2 321.5L112.0 276.8L111.5 254.4L110.9 233.7L110.2 217.5L109.4 209.7L108.8 209.7L107.3 216.1L105.2 223.6L102.4 232.1L101.1 234.8L99.1 238.8L94.6 245.2L81.4 265.6Z"/>
<path fill="#218cf4" fill-rule="evenodd" d="M57.2 321.5L112.2 321.5L111.9 276.8L111.5 254.4L110.7 231.1L110.0 217.5L109.3 209.7L108.8 209.7L107.8 215.2L106.3 221.7L104.0 230.0L102.8 233.2L97.1 244.7L91.8 252.0L83.0 265.6Z"/>
<path fill="#1898f2" fill-rule="evenodd" d="M60.5 321.5L112.1 321.5L111.9 276.8L111.5 254.4L110.7 230.9L109.9 217.5L109.2 209.7L108.8 209.7L108.1 215.3L107.2 220.2L104.3 232.1L100.3 240.6L95.1 250.7L89.1 258.8L84.7 265.6Z"/>
<path fill="#0ea5ef" fill-rule="evenodd" d="M63.8 321.5L112.1 321.5L111.9 276.8L111.4 251.9L110.6 230.6L109.8 217.5L109.1 210.8L108.9 209.7L107.0 224.1L105.3 232.1L100.3 242.8L93.1 256.7L86.3 265.6Z"/>
<path fill="#04b0ed" fill-rule="evenodd" d="M68.8 321.5L112.1 321.5L111.8 276.8L111.2 248.8L110.5 230.4L109.6 217.5L109.1 213.6L108.9 213.1L108.7 211.3L107.3 223.7L106.0 232.1L105.6 233.7L101.8 242.1L96.7 252.2L91.1 262.6L88.8 265.6Z"/>
<path fill="#07bbea" fill-rule="evenodd" d="M72.6 321.5L112.0 321.5L111.8 276.8L111.2 249.9L110.5 231.7L109.5 219.1L109.2 217.2L108.9 216.4L108.7 211.6L108.0 219.9L106.9 229.1L106.5 232.1L105.1 237.3L99.2 249.7L90.7 265.6Z"/>
<path fill="#12c8e6" fill-rule="evenodd" d="M75.3 321.5L112.0 321.5L111.8 276.8L111.3 254.4L110.5 232.9L109.4 221.2L109.1 220.0L108.9 219.8L108.7 211.9L108.0 222.8L106.9 232.1L104.7 240.6L99.5 251.6L92.1 265.6Z"/>
<path fill="#1dd1e2" fill-rule="evenodd" d="M77.9 321.5L111.9 321.5L111.7 276.8L111.3 254.4L110.4 232.2L109.4 224.4L109.1 223.4L108.9 223.1L108.7 212.1L107.3 232.1L104.2 244.2L99.6 253.8L93.4 265.6Z"/>
<path fill="#27dade" fill-rule="evenodd" d="M80.6 321.5L111.9 321.5L111.7 276.8L111.3 254.4L110.7 239.9L110.2 231.8L109.6 227.5L109.2 226.6L108.9 226.5L108.7 212.5L107.5 232.1L107.1 234.8L105.7 240.6L103.7 247.9L99.7 256.1L94.7 265.6Z"/>
<path fill="#30e1da" fill-rule="evenodd" d="M83.2 321.5L111.9 321.5L111.7 276.8L111.2 254.4L110.7 241.0L110.2 232.9L109.6 228.5L109.2 227.6L108.9 227.4L108.7 212.9L107.7 230.4L107.0 237.3L103.2 251.5L96.0 265.6Z"/>
<path fill="#3dead5" fill-rule="evenodd" d="M85.9 321.5L111.8 321.5L111.6 276.8L111.2 254.4L110.2 234.0L109.6 229.5L109.2 228.6L108.9 228.4L108.7 213.3L107.7 232.1L106.7 240.3L102.7 255.1L97.4 265.6Z"/>
<path fill="#46efd1" fill-rule="evenodd" d="M88.5 321.5L111.8 321.5L111.6 276.8L111.2 254.4L110.2 235.0L109.6 230.5L109.2 229.6L108.9 229.4L108.7 213.9L107.8 232.1L106.6 242.7L102.3 258.3L98.7 265.6Z"/>
<path fill="#50f4cc" fill-rule="evenodd" d="M91.2 321.5L111.7 321.5L111.5 276.8L111.1 254.4L110.6 241.9L110.1 234.9L109.6 231.5L109.2 230.6L108.9 230.4L108.7 214.5L108.0 232.1L106.5 245.2L101.8 262.0L100.0 265.6Z"/>
<path fill="#5af8c8" fill-rule="evenodd" d="M93.8 321.5L111.7 321.5L111.5 276.8L111.1 254.4L110.6 243.0L110.1 235.9L109.6 232.5L109.2 231.5L108.9 231.3L108.7 215.4L108.1 232.1L106.3 247.4L104.7 254.0L101.3 265.8Z"/>
<path fill="#64fbc3" fill-rule="evenodd" d="M95.0 321.5L111.7 321.5L111.5 276.8L111.1 254.4L110.1 237.0L109.6 233.5L109.2 232.5L108.9 232.3L108.7 216.8L108.1 232.1L106.1 250.7L101.9 265.6Z"/>
<path fill="#70febc" fill-rule="evenodd" d="M96.1 321.5L111.6 321.5L111.4 276.8L111.0 254.4L110.1 238.0L109.6 234.5L109.2 233.5L108.9 233.3L108.7 219.2L108.2 232.1L107.6 239.4L106.6 248.0L105.8 253.7L102.5 265.6Z"/>
<path fill="#7affb7" fill-rule="evenodd" d="M97.3 321.5L111.6 321.5L111.4 276.8L111.0 254.4L110.1 239.1L109.6 235.5L109.2 234.5L108.9 234.2L108.7 222.1L108.3 232.1L107.3 243.0L105.7 256.2L103.1 265.6Z"/>
<path fill="#84ffb2" fill-rule="evenodd" d="M98.4 321.5L111.5 321.5L111.3 276.8L110.9 254.4L110.5 245.0L110.0 238.9L109.5 236.0L109.2 235.4L108.9 235.2L108.7 225.5L108.4 232.1L107.7 240.8L106.2 254.0L105.5 259.1L103.6 265.6Z"/>
<path fill="#8efeac" fill-rule="evenodd" d="M99.6 321.5L111.5 321.5L111.3 276.8L110.9 254.4L110.0 239.9L109.5 237.0L109.2 236.4L108.9 236.2L108.7 229.2L107.5 244.4L106.6 252.2L105.3 261.6L104.2 265.6Z"/>
<path fill="#9bfba5" fill-rule="evenodd" d="M100.8 321.5L111.4 321.5L111.2 276.8L110.8 254.4L110.1 242.1L109.6 238.5L109.2 237.4L108.9 237.2L108.7 232.4L107.2 248.5L105.2 264.0L104.8 265.6Z"/>
<path fill="#a4f89f" fill-rule="evenodd" d="M101.5 321.5L111.4 321.5L111.2 276.8L110.8 254.4L110.1 243.1L109.6 239.5L109.2 238.4L108.9 238.1L108.7 233.9L107.2 249.4L105.2 265.6Z"/>
<path fill="#aef498" fill-rule="evenodd" d="M101.9 321.5L111.3 321.5L111.1 276.8L110.8 254.4L110.0 242.9L109.5 239.9L109.2 239.3L108.9 239.1L108.7 235.4L107.1 251.8L105.4 265.6Z"/>
<path fill="#b9ef92" fill-rule="evenodd" d="M102.2 321.5L111.3 321.5L111.1 276.8L110.7 254.4L110.0 243.9L109.5 240.9L109.2 240.3L108.9 240.0L108.7 236.8L107.1 253.2L105.5 265.6Z"/>
<path fill="#c2ea8c" fill-rule="evenodd" d="M102.6 321.5L111.2 321.5L111.0 276.8L110.7 254.4L110.0 244.9L109.5 241.9L109.2 241.2L108.9 241.0L108.7 238.3L107.0 255.6L105.7 265.6Z"/>
<path fill="#cee184" fill-rule="evenodd" d="M102.9 321.5L111.2 321.5L110.9 276.8L110.6 254.4L109.9 244.9L109.4 242.5L108.9 242.0L108.7 239.8L107.0 256.9L105.9 265.6Z"/>
<path fill="#d9da7d" fill-rule="evenodd" d="M103.3 321.5L111.1 321.5L110.9 276.8L110.5 254.4L109.9 245.9L109.4 243.4L108.9 242.9L108.7 241.2L106.1 265.6Z"/>
<path fill="#e2d176" fill-rule="evenodd" d="M103.6 321.5L111.0 321.5L110.8 276.8L110.5 254.4L109.7 246.0L109.4 244.4L108.9 243.9L108.7 242.7L108.1 247.3L106.2 265.6Z"/>
<path fill="#ecc86f" fill-rule="evenodd" d="M104.0 321.5L111.0 321.5L110.7 276.8L110.4 254.4L109.7 247.0L109.4 245.4L108.9 244.8L108.7 244.2L108.1 248.7L106.4 265.6Z"/>
<path fill="#f9bb66" fill-rule="evenodd" d="M104.3 321.5L110.9 321.5L110.7 276.8L110.4 254.4L109.6 247.2L109.2 246.0L108.7 245.7L108.0 251.3L106.6 265.6Z"/>
<path fill="#ffb05f" fill-rule="evenodd" d="M104.6 321.5L110.8 321.5L110.6 276.8L110.3 254.4L109.6 248.2L109.2 247.0L108.9 246.8L108.0 252.5L106.7 265.6Z"/>
<path fill="#ffa558" fill-rule="evenodd" d="M104.8 321.5L110.7 321.5L110.5 276.8L110.2 254.4L109.6 249.2L109.2 248.0L108.9 247.7L108.0 253.9L106.8 265.6Z"/>
<path fill="#ff9850" fill-rule="evenodd" d="M105.1 321.5L110.7 321.5L110.1 254.4L109.6 250.1L109.2 248.9L108.9 248.7L108.0 255.3L107.0 265.6Z"/>
<path fill="#ff8c49" fill-rule="evenodd" d="M105.3 321.5L110.6 321.5L110.0 254.4L109.5 250.6L109.2 249.9L108.9 249.6L107.1 265.6Z"/>
<path fill="#ff7b40" fill-rule="evenodd" d="M105.6 321.5L110.5 321.5L109.9 254.4L109.5 251.5L109.2 250.8L108.9 250.6L108.7 253.1L107.8 259.1L107.2 265.6Z"/>
<path fill="#ff6d38" fill-rule="evenodd" d="M105.8 321.5L110.4 321.5L109.8 254.4L109.4 252.1L108.9 251.5L108.7 254.6L107.8 260.5L107.3 265.6Z"/>
<path fill="#ff5f30" fill-rule="evenodd" d="M106.1 321.5L110.3 321.5L109.7 254.4L109.4 253.0L108.9 252.5L108.7 256.0L107.5 265.6Z"/>
<path fill="#ff5029" fill-rule="evenodd" d="M106.3 321.5L110.1 321.5L109.5 254.4L109.2 253.7L108.9 253.5L108.7 257.5L107.6 265.6Z"/>
<path fill="#ff3e1f" fill-rule="evenodd" d="M106.6 321.5L110.0 321.5L109.5 273.5L109.1 257.0L108.9 254.4L108.8 258.7L107.7 265.6Z"/>
<path fill="#ff2f18" fill-rule="evenodd" d="M107.0 321.5L109.8 321.5L109.4 291.2L109.1 283.1L108.9 281.3L108.7 260.5L107.9 265.6Z"/>
<path fill="#ff1f10" fill-rule="evenodd" d="M107.5 321.5L109.4 321.5L109.2 312.7L108.9 308.1L108.7 262.0L108.2 265.6Z"/>
<path fill="#ff1008" fill-rule="evenodd" d="M107.9 321.5L108.8 321.5L108.7 263.5L108.4 265.6Z"/>
<path fill="#ff0000" fill-rule="evenodd" d="M108.4 321.5L108.8 321.5L108.7 264.9L108.6 265.6Z"/>
<line x1="108.85" y1="209.70" x2="108.85" y2="321.50" stroke="#fff" stroke-width="1.4"/>
<line x1="121.17" y1="209.70" x2="121.17" y2="321.50" stroke="#fff" stroke-width="1.6" stroke-linecap="round" stroke-dasharray="0.01 3.655" stroke-dashoffset="-1.25"/>
</g>
<rect x="33.70" y="209.70" width="150.30" height="111.80" fill="none" stroke="#333" stroke-width="0.7"/>
<line x1="33.70" y1="321.50" x2="33.70" y2="324.10" stroke="#333" stroke-width="0.7"/>
<line x1="71.28" y1="321.50" x2="71.28" y2="324.10" stroke="#333" stroke-width="0.7"/>
<line x1="108.85" y1="321.50" x2="108.85" y2="324.10" stroke="#333" stroke-width="0.7"/>
<line x1="146.43" y1="321.50" x2="146.43" y2="324.10" stroke="#333" stroke-width="0.7"/>
<line x1="184.00" y1="321.50" x2="184.00" y2="324.10" stroke="#333" stroke-width="0.7"/>
<line x1="31.10" y1="321.50" x2="33.70" y2="321.50" stroke="#333" stroke-width="0.7"/>
<line x1="31.10" y1="299.14" x2="33.70" y2="299.14" stroke="#333" stroke-width="0.7"/>
<line x1="31.10" y1="276.78" x2="33.70" y2="276.78" stroke="#333" stroke-width="0.7"/>
<line x1="31.10" y1="254.42" x2="33.70" y2="254.42" stroke="#333" stroke-width="0.7"/>
<line x1="31.10" y1="232.06" x2="33.70" y2="232.06" stroke="#333" stroke-width="0.7"/>
<line x1="31.10" y1="209.70" x2="33.70" y2="209.70" stroke="#333" stroke-width="0.7"/>
<text x="11.94" y="325.45" font-size="10.80" stroke="#262626" stroke-width="0.20" fill="#262626">0.0</text>
<text x="12.31" y="303.09" font-size="10.80" stroke="#262626" stroke-width="0.20" fill="#262626">0.2</text>
<text x="11.83" y="280.73" font-size="10.80" stroke="#262626" stroke-width="0.20" fill="#262626">0.4</text>
<text x="11.90" y="258.37" font-size="10.80" stroke="#262626" stroke-width="0.20" fill="#262626">0.6</text>
<text x="11.96" y="236.01" font-size="10.80" stroke="#262626" stroke-width="0.20" fill="#262626">0.8</text>
<text x="11.94" y="213.65" font-size="10.80" stroke="#262626" stroke-width="0.20" fill="#262626">1.0</text>
<text x="25.11" y="335.20" font-size="10.80" stroke="#262626" stroke-width="0.20" fill="#262626">0.0</text>
<text x="62.80" y="335.20" font-size="10.80" stroke="#262626" stroke-width="0.20" fill="#262626">0.5</text>
<text x="100.03" y="335.20" font-size="10.80" stroke="#262626" stroke-width="0.20" fill="#262626">1.0</text>
<text x="137.72" y="335.20" font-size="10.80" stroke="#262626" stroke-width="0.20" fill="#262626">1.5</text>
<text x="127.61" y="266.20" font-size="8.40" font-style="italic" stroke="#ffffff" stroke-width="0.20" fill="#ffffff">c</text>
<text x="131.53" y="268.10" font-size="5.88" font-style="italic" stroke="#ffffff" stroke-width="0.20" fill="#ffffff">sw</text>
<text x="142.01" y="266.20" font-size="8.40" stroke="#ffffff" stroke-width="0.20" fill="#ffffff">=</text>
<text x="150.65" y="266.20" font-size="8.40" stroke="#ffffff" stroke-width="0.20" fill="#ffffff">0.005</text>
<text x="127.54" y="277.55" font-size="8.40" stroke="#ffffff" stroke-width="0.20" fill="#ffffff">cos</text>
<text x="141.06" y="277.55" font-size="8.40" font-style="italic" stroke="#ffffff" stroke-width="0.20" fill="#ffffff" textLength="4.6" lengthAdjust="spacingAndGlyphs">θ</text>
<text x="148.71" y="277.55" font-size="8.40" stroke="#ffffff" stroke-width="0.20" fill="#ffffff">=</text>
<text x="157.68" y="277.55" font-size="8.40" stroke="#ffffff" stroke-width="0.20" fill="#ffffff">1.0</text>
<text x="127.40" y="288.90" font-size="8.40" font-style="italic" stroke="#ffffff" stroke-width="0.20" fill="#ffffff">v</text>
<text x="132.11" y="290.80" font-size="5.88" font-style="italic" stroke="#ffffff" stroke-width="0.20" fill="#ffffff">A</text>
<text x="138.31" y="288.90" font-size="8.40" stroke="#ffffff" stroke-width="0.20" fill="#ffffff">=</text>
<text x="146.45" y="288.90" font-size="8.40" stroke="#ffffff" stroke-width="0.20" fill="#ffffff">0.8</text>
<text x="127.70" y="300.25" font-size="8.40" font-style="italic" stroke="#ffffff" stroke-width="0.20" fill="#ffffff">max</text>
<text x="147.81" y="300.25" font-size="8.40" stroke="#ffffff" stroke-width="0.20" fill="#ffffff">=</text>
<text x="155.95" y="300.25" font-size="8.40" stroke="#ffffff" stroke-width="0.20" fill="#ffffff">0.02</text>
<clipPath id="clipBR"><rect x="192.00" y="209.70" width="150.40" height="111.80"/></clipPath>
<rect x="192.00" y="209.70" width="150.40" height="111.80" fill="#000"/>
<g clip-path="url(#clipBR)">
<path fill="#8000ff" fill-rule="evenodd" d="M192.0 321.5L267.2 321.5L267.2 210.1L267.1 209.9ZM271.2 219.6L271.3 219.8L272.6 219.8L272.7 219.6L273.1 219.6L274.7 218.5L275.6 217.5L277.5 214.7L278.2 213.2L279.1 211.2L279.5 209.7L268.1 209.7L268.1 213.4L268.5 215.7L269.2 217.7L270.0 218.8L270.8 219.6Z"/>
<path fill="#7610ff" fill-rule="evenodd" d="M193.5 321.5L267.2 321.5L267.1 209.9L253.1 231.3ZM269.4 217.9L270.8 217.8L273.0 217.2L274.6 216.4L276.1 215.3L277.4 214.0L278.2 212.7L278.7 211.2L278.9 209.7L268.1 209.7L268.3 214.4L268.5 215.7Z"/>
<path fill="#6c1fff" fill-rule="evenodd" d="M195.4 321.5L267.2 321.5L267.1 210.0L253.3 232.1L234.9 260.0ZM268.7 215.8L269.8 215.8L271.5 215.4L272.8 214.7L273.9 214.0L274.9 213.1L275.6 212.0L276.0 210.8L276.1 209.7L268.2 209.7L268.2 213.4Z"/>
<path fill="#622ffe" fill-rule="evenodd" d="M197.8 321.5L267.2 321.5L267.1 210.0L261.2 220.6L254.3 232.1L236.0 260.0ZM268.2 212.3L268.2 212.5L269.2 212.4L270.6 211.7L271.4 210.8L271.7 209.7L268.2 209.7Z"/>
<path fill="#583efd" fill-rule="evenodd" d="M200.5 321.5L267.2 321.5L267.1 210.0L261.9 220.4L255.6 232.1L247.6 244.5L237.2 260.0Z"/>
<path fill="#4c50fc" fill-rule="evenodd" d="M204.5 321.5L267.2 321.5L267.1 210.1L262.8 220.0L256.8 232.1L249.2 244.5L239.0 260.0Z"/>
<path fill="#425ffa" fill-rule="evenodd" d="M208.4 321.5L267.2 321.5L267.1 210.1L263.4 220.3L258.1 232.1L250.2 245.4L240.8 260.0Z"/>
<path fill="#386df9" fill-rule="evenodd" d="M212.4 321.5L267.2 321.5L267.1 210.2L263.8 220.8L259.5 232.1L253.8 242.0L242.5 260.0Z"/>
<path fill="#2e7bf7" fill-rule="evenodd" d="M216.3 321.5L267.2 321.5L267.1 210.3L265.7 216.1L263.9 222.1L261.4 229.4L259.7 233.8L257.5 238.3L254.9 242.9L244.3 260.0Z"/>
<path fill="#218cf4" fill-rule="evenodd" d="M220.6 321.5L267.2 321.5L267.1 210.4L264.9 220.5L261.4 232.1L255.2 245.5L246.2 260.0Z"/>
<path fill="#1898f2" fill-rule="evenodd" d="M225.1 321.5L267.2 321.5L267.1 210.6L265.0 221.8L263.4 228.3L262.3 232.1L258.7 240.5L253.9 250.4L252.7 252.9L248.2 260.0Z"/>
<path fill="#0ea5ef" fill-rule="evenodd" d="M229.6 321.5L267.2 321.5L267.1 210.8L266.2 217.2L265.1 222.9L263.2 231.4L262.2 234.7L257.3 246.0L250.2 260.2Z"/>
<path fill="#04b0ed" fill-rule="evenodd" d="M232.6 321.5L267.2 321.5L267.1 211.0L265.2 224.6L263.6 232.1L262.8 234.9L261.1 240.1L259.6 243.6L255.9 251.4L251.6 260.0Z"/>
<path fill="#07bbea" fill-rule="evenodd" d="M235.6 321.5L267.2 321.5L267.1 211.3L265.8 222.2L263.9 232.9L260.1 245.1L253.0 260.0Z"/>
<path fill="#12c8e6" fill-rule="evenodd" d="M238.6 321.5L267.2 321.5L267.1 211.6L266.4 218.9L265.8 224.2L264.6 232.1L263.7 235.9L259.1 250.0L254.3 260.0Z"/>
<path fill="#1dd1e2" fill-rule="evenodd" d="M241.6 321.5L267.2 321.5L267.1 211.9L265.9 225.2L264.9 232.1L263.8 237.1L262.6 241.6L259.2 251.8L258.1 255.0L255.7 260.0Z"/>
<path fill="#27dade" fill-rule="evenodd" d="M244.6 321.5L267.2 321.5L267.1 212.3L266.2 224.4L265.1 233.2L262.6 244.1L257.0 260.2Z"/>
<path fill="#30e1da" fill-rule="evenodd" d="M246.5 321.5L267.2 321.5L267.1 212.6L266.4 223.7L265.2 234.5L262.1 248.0L257.9 260.0Z"/>
<path fill="#3dead5" fill-rule="evenodd" d="M248.4 321.5L267.2 321.5L267.1 212.9L266.3 226.3L265.7 232.1L264.9 237.6L261.6 251.8L258.7 260.0Z"/>
<path fill="#46efd1" fill-rule="evenodd" d="M250.3 321.5L267.2 321.5L267.1 213.2L266.2 229.1L264.7 240.8L261.1 255.7L259.6 260.0Z"/>
<path fill="#50f4cc" fill-rule="evenodd" d="M252.2 321.5L267.1 321.5L267.1 213.6L266.2 231.1L265.5 236.7L264.3 244.5L260.4 260.2Z"/>
<path fill="#5af8c8" fill-rule="evenodd" d="M253.4 321.5L267.1 321.5L267.1 214.0L265.9 235.0L264.2 247.1L261.0 260.0Z"/>
<path fill="#64fbc3" fill-rule="evenodd" d="M254.6 321.5L267.1 321.5L267.1 214.6L266.4 229.5L265.8 237.6L263.9 250.3L261.5 260.0Z"/>
<path fill="#70febc" fill-rule="evenodd" d="M255.8 321.5L267.1 321.5L267.1 215.2L266.5 230.0L265.8 239.2L263.7 253.4L262.1 260.0Z"/>
<path fill="#7affb7" fill-rule="evenodd" d="M257.0 321.5L267.1 321.5L267.1 216.1L266.4 232.1L265.7 241.8L263.4 256.6L262.6 260.0Z"/>
<path fill="#84ffb2" fill-rule="evenodd" d="M258.2 321.5L267.1 321.5L267.1 217.5L266.5 232.1L265.6 244.4L263.1 260.0Z"/>
<path fill="#8efeac" fill-rule="evenodd" d="M258.8 321.5L267.1 321.5L267.1 219.2L266.6 232.1L265.6 244.9L265.3 247.9L263.4 260.0Z"/>
<path fill="#9bfba5" fill-rule="evenodd" d="M259.4 321.5L267.1 321.5L267.1 221.2L266.6 232.1L266.0 241.6L265.3 249.7L263.7 260.0Z"/>
<path fill="#a4f89f" fill-rule="evenodd" d="M260.1 321.5L267.1 321.5L267.1 223.4L266.6 234.1L265.3 250.8L264.0 260.0Z"/>
<path fill="#aef498" fill-rule="evenodd" d="M260.7 321.5L267.1 321.5L267.1 225.8L266.8 232.1L265.5 249.9L265.1 254.9L264.3 260.0Z"/>
<path fill="#b9ef92" fill-rule="evenodd" d="M261.3 321.5L267.1 321.5L267.1 228.3L265.7 248.3L264.9 257.5L264.5 260.0Z"/>
<path fill="#c2ea8c" fill-rule="evenodd" d="M261.9 321.5L267.1 321.5L267.1 230.9L264.7 261.1Z"/>
<path fill="#cee184" fill-rule="evenodd" d="M262.2 321.5L267.1 321.5L267.1 233.0L264.9 260.0Z"/>
<path fill="#d9da7d" fill-rule="evenodd" d="M262.4 321.5L267.1 321.5L267.1 234.5L265.0 260.0Z"/>
<path fill="#e2d176" fill-rule="evenodd" d="M262.6 321.5L267.1 321.5L267.1 236.0L265.1 260.0Z"/>
<path fill="#ecc86f" fill-rule="evenodd" d="M262.9 321.5L267.1 321.5L267.1 237.6L265.2 260.0Z"/>
<path fill="#f9bb66" fill-rule="evenodd" d="M263.1 321.5L267.1 321.5L267.1 239.1L265.4 260.0Z"/>
<path fill="#ffb05f" fill-rule="evenodd" d="M263.3 321.5L267.1 321.5L267.1 240.7L265.5 260.0Z"/>
<path fill="#ffa558" fill-rule="evenodd" d="M263.6 321.5L267.1 321.5L267.1 242.3L265.6 260.0Z"/>
<path fill="#ff9850" fill-rule="evenodd" d="M263.8 321.5L267.1 321.5L267.1 243.8L265.7 260.0Z"/>
<path fill="#ff8c49" fill-rule="evenodd" d="M264.0 321.5L267.1 321.5L267.1 245.4L265.8 260.0Z"/>
<path fill="#ff7b40" fill-rule="evenodd" d="M264.2 321.5L267.1 321.5L267.1 247.0L265.9 260.0Z"/>
<path fill="#ff6d38" fill-rule="evenodd" d="M264.5 321.5L267.1 321.5L267.1 248.5L266.0 260.0Z"/>
<path fill="#ff5f30" fill-rule="evenodd" d="M264.7 321.5L267.1 321.5L267.1 250.1L266.1 260.0Z"/>
<path fill="#ff5029" fill-rule="evenodd" d="M264.9 321.5L267.1 321.5L267.1 251.7L266.2 260.0Z"/>
<path fill="#ff3e1f" fill-rule="evenodd" d="M265.3 321.5L267.1 321.5L267.1 253.3L266.4 260.0Z"/>
<path fill="#ff2f18" fill-rule="evenodd" d="M265.7 321.5L267.1 321.5L267.1 254.9L266.5 260.0Z"/>
<path fill="#ff1f10" fill-rule="evenodd" d="M266.1 321.5L267.1 321.5L267.1 256.4L266.7 260.0Z"/>
<path fill="#ff1008" fill-rule="evenodd" d="M266.4 321.5L267.1 321.5L267.1 258.0L266.9 260.0Z"/>
<path fill="#ff0000" fill-rule="evenodd" d="M266.8 321.5L267.1 321.5L267.1 259.6L267.0 260.0Z"/>
<line x1="267.20" y1="209.70" x2="267.20" y2="321.50" stroke="#fff" stroke-width="1.4"/>
<line x1="279.46" y1="209.70" x2="279.46" y2="321.50" stroke="#fff" stroke-width="1.6" stroke-linecap="round" stroke-dasharray="0.01 3.655" stroke-dashoffset="-1.25"/>
</g>
<rect x="192.00" y="209.70" width="150.40" height="111.80" fill="none" stroke="#333" stroke-width="0.7"/>
<line x1="192.00" y1="321.50" x2="192.00" y2="324.10" stroke="#333" stroke-width="0.7"/>
<line x1="229.60" y1="321.50" x2="229.60" y2="324.10" stroke="#333" stroke-width="0.7"/>
<line x1="267.20" y1="321.50" x2="267.20" y2="324.10" stroke="#333" stroke-width="0.7"/>
<line x1="304.80" y1="321.50" x2="304.80" y2="324.10" stroke="#333" stroke-width="0.7"/>
<line x1="342.40" y1="321.50" x2="342.40" y2="324.10" stroke="#333" stroke-width="0.7"/>
<line x1="189.40" y1="321.50" x2="192.00" y2="321.50" stroke="#333" stroke-width="0.7"/>
<line x1="189.40" y1="299.14" x2="192.00" y2="299.14" stroke="#333" stroke-width="0.7"/>
<line x1="189.40" y1="276.78" x2="192.00" y2="276.78" stroke="#333" stroke-width="0.7"/>
<line x1="189.40" y1="254.42" x2="192.00" y2="254.42" stroke="#333" stroke-width="0.7"/>
<line x1="189.40" y1="232.06" x2="192.00" y2="232.06" stroke="#333" stroke-width="0.7"/>
<line x1="189.40" y1="209.70" x2="192.00" y2="209.70" stroke="#333" stroke-width="0.7"/>
<text x="183.41" y="335.20" font-size="10.80" stroke="#262626" stroke-width="0.20" fill="#262626">0.0</text>
<text x="221.13" y="335.20" font-size="10.80" stroke="#262626" stroke-width="0.20" fill="#262626">0.5</text>
<text x="258.38" y="335.20" font-size="10.80" stroke="#262626" stroke-width="0.20" fill="#262626">1.0</text>
<text x="296.09" y="335.20" font-size="10.80" stroke="#262626" stroke-width="0.20" fill="#262626">1.5</text>
<text x="333.78" y="335.20" font-size="10.80" stroke="#262626" stroke-width="0.20" fill="#262626">2.0</text>
<text x="285.91" y="266.20" font-size="8.40" font-style="italic" stroke="#ffffff" stroke-width="0.20" fill="#ffffff">c</text>
<text x="289.83" y="268.10" font-size="5.88" font-style="italic" stroke="#ffffff" stroke-width="0.20" fill="#ffffff">sw</text>
<text x="300.31" y="266.20" font-size="8.40" stroke="#ffffff" stroke-width="0.20" fill="#ffffff">=</text>
<text x="308.95" y="266.20" font-size="8.40" stroke="#ffffff" stroke-width="0.20" fill="#ffffff">0.005</text>
<text x="285.84" y="277.55" font-size="8.40" stroke="#ffffff" stroke-width="0.20" fill="#ffffff">cos</text>
<text x="299.36" y="277.55" font-size="8.40" font-style="italic" stroke="#ffffff" stroke-width="0.20" fill="#ffffff" textLength="4.6" lengthAdjust="spacingAndGlyphs">θ</text>
<text x="307.01" y="277.55" font-size="8.40" stroke="#ffffff" stroke-width="0.20" fill="#ffffff">=</text>
<text x="315.98" y="277.55" font-size="8.40" stroke="#ffffff" stroke-width="0.20" fill="#ffffff">1.0</text>
<text x="285.70" y="288.90" font-size="8.40" font-style="italic" stroke="#ffffff" stroke-width="0.20" fill="#ffffff">v</text>
<text x="290.41" y="290.80" font-size="5.88" font-style="italic" stroke="#ffffff" stroke-width="0.20" fill="#ffffff">A</text>
<text x="296.61" y="288.90" font-size="8.40" stroke="#ffffff" stroke-width="0.20" fill="#ffffff">=</text>
<text x="304.75" y="288.90" font-size="8.40" stroke="#ffffff" stroke-width="0.20" fill="#ffffff">0.8</text>
<text x="286.00" y="300.25" font-size="8.40" font-style="italic" stroke="#ffffff" stroke-width="0.20" fill="#ffffff">max</text>
<text x="306.11" y="300.25" font-size="8.40" stroke="#ffffff" stroke-width="0.20" fill="#ffffff">=</text>
<text x="314.25" y="300.25" font-size="8.40" stroke="#ffffff" stroke-width="0.20" fill="#ffffff">0.02</text>
<text transform="translate(7.9,203.6) rotate(-90)" font-size="11.80" fill="#262626" stroke="#262626" stroke-width="0.20">cos<tspan font-style="italic">ψ</tspan></text>
<text x="151.39" y="348.60" font-size="11.70" font-style="italic" stroke="#262626" stroke-width="0.20" fill="#262626">M</text>
<text x="161.82" y="350.40" font-size="8.19" font-style="italic" stroke="#262626" stroke-width="0.20" fill="#262626">e</text>
<text x="168.76" y="348.60" font-size="11.70" stroke="#262626" stroke-width="0.20" fill="#262626">=</text>
<text x="183.03" y="344.00" font-size="8.00" font-style="italic" stroke="#262626" stroke-width="0.20" fill="#262626">v</text>
<rect x="181.9" y="345.9" width="9.8" height="0.7" fill="#262626"/>
<text x="181.43" y="352.40" font-size="8.00" font-style="italic" stroke="#262626" stroke-width="0.20" fill="#262626">v</text>
<text x="187.20" y="354.00" font-size="5.60" font-style="italic" stroke="#262626" stroke-width="0.20" fill="#262626">A</text>
<text x="192.25" y="348.60" font-size="11.70" stroke="#262626" stroke-width="0.20" fill="#262626">cos</text>
<text x="211.94" y="348.6" font-size="11.70" font-style="italic" fill="#262626" stroke="#262626" stroke-width="0.20">θ</text>
</svg>
</body></html>
